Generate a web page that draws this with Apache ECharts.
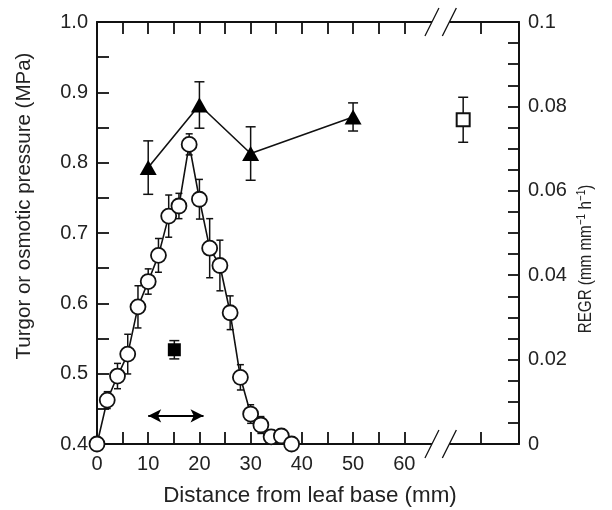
<!DOCTYPE html>
<html><head><meta charset="utf-8">
<script src="https://cdn.jsdelivr.net/npm/echarts@6/dist/echarts.min.js"></script>
<style>html,body{margin:0;padding:0;background:#fff}#c{width:612px;height:510px}</style>
</head><body><div id="c"></div>
<script>
// REGR (open circles, right axis)
const regrX = [0, 2, 4, 6, 8, 10, 12, 14, 16, 18, 20, 22, 24, 26, 28, 30, 32, 34, 36, 38];
const regrY = [0, 0.0104, 0.0161, 0.0213, 0.0325, 0.0385, 0.0447, 0.054, 0.0564, 0.071, 0.058, 0.0464, 0.0423, 0.0311, 0.0158, 0.0071, 0.0045, 0.0017, 0.0019, 0];
const regrErr = [0, 0.002, 0.003, 0.0047, 0.005, 0.003, 0.004, 0.005, 0.003, 0.0025, 0.0047, 0.007, 0.006, 0.004, 0.003, 0.0022, 0.002, 0.0015, 0.0015, 0];
// Turgor (filled triangles, left axis)
const turgorX = [10, 20, 30, 50];
const turgorY = [0.793, 0.882, 0.813, 0.865];
const turgorErr = [0.038, 0.033, 0.038, 0.02];
// Filled square (left axis)
const fsqX = [15.1];
const fsqY = [0.534];
const fsqErr = [0.013];
// Open square beyond the break (left axis)
const osqX = [71.5];
const osqY = [0.861];
const osqErr = [0.032];
// Double arrow (mm range, pressure level)
const arrowX = [10.0, 20.8];
const arrowY = 0.44;
// Axis ticks / labels
const xTicks = [0, 5, 10, 15, 20, 25, 30, 35, 40, 45, 50, 55, 60, 75];
const xLabels = [0, 10, 20, 30, 40, 50, 60];
const xBreak = [65.4, 68.8];
const leftTicks = [0.4, 0.45, 0.5, 0.55, 0.6, 0.65, 0.7, 0.75, 0.8, 0.85, 0.9, 0.95, 1.0];
const leftLabels = [0.4, 0.5, 0.6, 0.7, 0.8, 0.9, 1.0];
const rightTicks = [0, 0.005, 0.01, 0.015, 0.02, 0.025, 0.03, 0.035, 0.04, 0.045, 0.05, 0.055, 0.06, 0.065, 0.07, 0.075, 0.08, 0.085, 0.09, 0.095, 0.1];
const rightLabels = [0, 0.02, 0.04, 0.06, 0.08, 0.1];
const rightLabelText = ['0', '0.02', '0.04', '0.06', '0.08', '0.1'];

const FONT = "'Liberation Sans', Arial, Helvetica, sans-serif";
const TXT = '#222';

function zip3(a, b, c) { return a.map((v, i) => [v, b[i], c[i]]); }
function zip2(a, b) { return a.map((v, i) => [v, b[i]]); }

function errRender(capHalf) {
  return function (params, api) {
    const x = api.value(0), y = api.value(1), e = api.value(2);
    if (!e) return { type: 'group', children: [] };
    const t = api.coord([x, y + e]), b = api.coord([x, y - e]);
    const st = { stroke: '#111', lineWidth: 1.5 };
    return { type: 'group', children: [
      { type: 'line', shape: { x1: t[0], y1: t[1], x2: b[0], y2: b[1] }, style: st },
      { type: 'line', shape: { x1: t[0] - capHalf, y1: t[1], x2: t[0] + capHalf, y2: t[1] }, style: st },
      { type: 'line', shape: { x1: b[0] - capHalf, y1: b[1], x2: b[0] + capHalf, y2: b[1] }, style: st }
    ]};
  };
}

function breakRender(params, api) {
  const x1 = api.value(0), x2 = api.value(1);
  const children = [];
  [0.4, 1.0].forEach(function (yv) {
    const p1 = api.coord([x1, yv]), p2 = api.coord([x2, yv]);
    children.push({ type: 'rect', shape: { x: p1[0], y: p1[1] - 3, width: p2[0] - p1[0], height: 6 }, style: { fill: '#fff' } });
    [p1, p2].forEach(function (p) {
      children.push({ type: 'line', shape: { x1: p[0] - 7, y1: p[1] + 14, x2: p[0] + 7, y2: p[1] - 14 }, style: { stroke: '#111', lineWidth: 1.3 } });
    });
  });
  return { type: 'group', children: children };
}

const axisLineStyle = { color: '#111', width: 2 };
const tickStyle = { color: '#111', width: 1.8 };

const chart = echarts.init(document.getElementById('c'), null, { renderer: 'canvas' });
chart.setOption({
  animation: false,
  backgroundColor: '#fff',
  grid: { left: 97, right: 93, top: 22, bottom: 66 },
  xAxis: [
    { type: 'value', min: 0, max: 82.4, position: 'bottom',
      axisLine: { show: true, onZero: false, lineStyle: axisLineStyle },
      axisTick: { show: true, inside: true, length: 12, lineStyle: tickStyle, customValues: xTicks },
      axisLabel: { show: true, customValues: xLabels, fontFamily: FONT, fontSize: 20, color: TXT, margin: 10 },
      splitLine: { show: false } },
    { type: 'value', min: 0, max: 82.4, position: 'top',
      axisLine: { show: true, onZero: false, lineStyle: axisLineStyle },
      axisTick: { show: true, inside: true, length: 12, lineStyle: tickStyle, customValues: xTicks },
      axisLabel: { show: false },
      splitLine: { show: false } }
  ],
  yAxis: [
    { type: 'value', min: 0.4, max: 1.0, position: 'left',
      axisLine: { show: true, onZero: false, lineStyle: axisLineStyle },
      axisTick: { show: true, inside: true, length: 12, lineStyle: tickStyle, customValues: leftTicks },
      axisLabel: { show: true, customValues: leftLabels, formatter: v => Number(v).toFixed(1), fontFamily: FONT, fontSize: 20, color: TXT, margin: 9 },
      splitLine: { show: false } },
    { type: 'value', min: 0, max: 0.1, position: 'right',
      axisLine: { show: true, onZero: false, lineStyle: axisLineStyle },
      axisTick: { show: true, inside: true, length: 11, lineStyle: tickStyle, customValues: rightTicks },
      axisLabel: { show: true, customValues: rightLabels,
        formatter: function (v) {
          let best = 0, bd = 1e9;
          rightLabels.forEach((r, i) => { const d = Math.abs(r - v); if (d < bd) { bd = d; best = i; } });
          return rightLabelText[best];
        }, fontFamily: FONT, fontSize: 20, color: TXT, margin: 9 },
      splitLine: { show: false } }
  ],
  graphic: [
    { type: 'text', x: 24, y: 206, rotation: Math.PI / 2,
      style: { text: 'Turgor or osmotic pressure (MPa)', font: '20.5px ' + FONT, fill: TXT, align: 'center', verticalAlign: 'middle' } },
    { type: 'text', x: 586, y: 259, rotation: Math.PI / 2, scaleX: 0.8,
      style: { text: 'REGR (mm mm{s|\u22121} h{s|\u22121})', font: '19px ' + FONT, fill: TXT, align: 'center', verticalAlign: 'middle',
        rich: { s: { fontSize: 12.5, fontFamily: FONT, fill: TXT, verticalAlign: 'top', lineHeight: 21 } } } },
    { type: 'text', x: 310, y: 496,
      style: { text: 'Distance from leaf base (mm)', font: '22.4px ' + FONT, fill: TXT, align: 'center', verticalAlign: 'middle' } }
  ],
  series: [
    { type: 'custom', name: 'break', xAxisIndex: 0, yAxisIndex: 0, clip: false, z: 5,
      renderItem: breakRender, data: [xBreak] },
    { type: 'custom', name: 'regrErr', xAxisIndex: 0, yAxisIndex: 1, z: 2,
      renderItem: errRender(3.5), data: zip3(regrX, regrY, regrErr) },
    { type: 'line', name: 'REGR', xAxisIndex: 0, yAxisIndex: 1, z: 3,
      data: zip2(regrX, regrY), symbol: 'circle', symbolSize: 15,
      itemStyle: { color: '#fff', borderColor: '#111', borderWidth: 1.8 },
      lineStyle: { color: '#111', width: 1.6 } },
    { type: 'custom', name: 'turgorErr', xAxisIndex: 0, yAxisIndex: 0, z: 2,
      renderItem: errRender(5), data: zip3(turgorX, turgorY, turgorErr) },
    { type: 'line', name: 'Turgor', xAxisIndex: 0, yAxisIndex: 0, z: 3,
      data: zip2(turgorX, turgorY), symbol: 'triangle', symbolSize: [17, 15],
      itemStyle: { color: '#000', borderColor: '#000', borderWidth: 0 },
      lineStyle: { color: '#111', width: 1.6 } },
    { type: 'custom', name: 'fsqErr', xAxisIndex: 0, yAxisIndex: 0, z: 2,
      renderItem: errRender(5), data: zip3(fsqX, fsqY, fsqErr) },
    { type: 'scatter', name: 'Osmotic', xAxisIndex: 0, yAxisIndex: 0, z: 3,
      data: zip2(fsqX, fsqY), symbol: 'rect', symbolSize: 13,
      itemStyle: { color: '#000', opacity: 1 },
      markLine: { silent: true, symbol: ['arrow', 'arrow'], symbolSize: [10, 13],
        label: { show: false }, lineStyle: { color: '#000', width: 2, type: 'solid', opacity: 1 },
        data: [[{ coord: [arrowX[0], arrowY] }, { coord: [arrowX[1], arrowY] }]] } },
    { type: 'custom', name: 'osqErr', xAxisIndex: 0, yAxisIndex: 0, z: 2,
      renderItem: errRender(5), data: zip3(osqX, osqY, osqErr) },
    { type: 'scatter', name: 'Open', xAxisIndex: 0, yAxisIndex: 0, z: 3,
      data: zip2(osqX, osqY), symbol: 'rect', symbolSize: 13,
      itemStyle: { color: '#fff', borderColor: '#111', borderWidth: 2, opacity: 1 } }
  ]
});
</script>
</body></html>
